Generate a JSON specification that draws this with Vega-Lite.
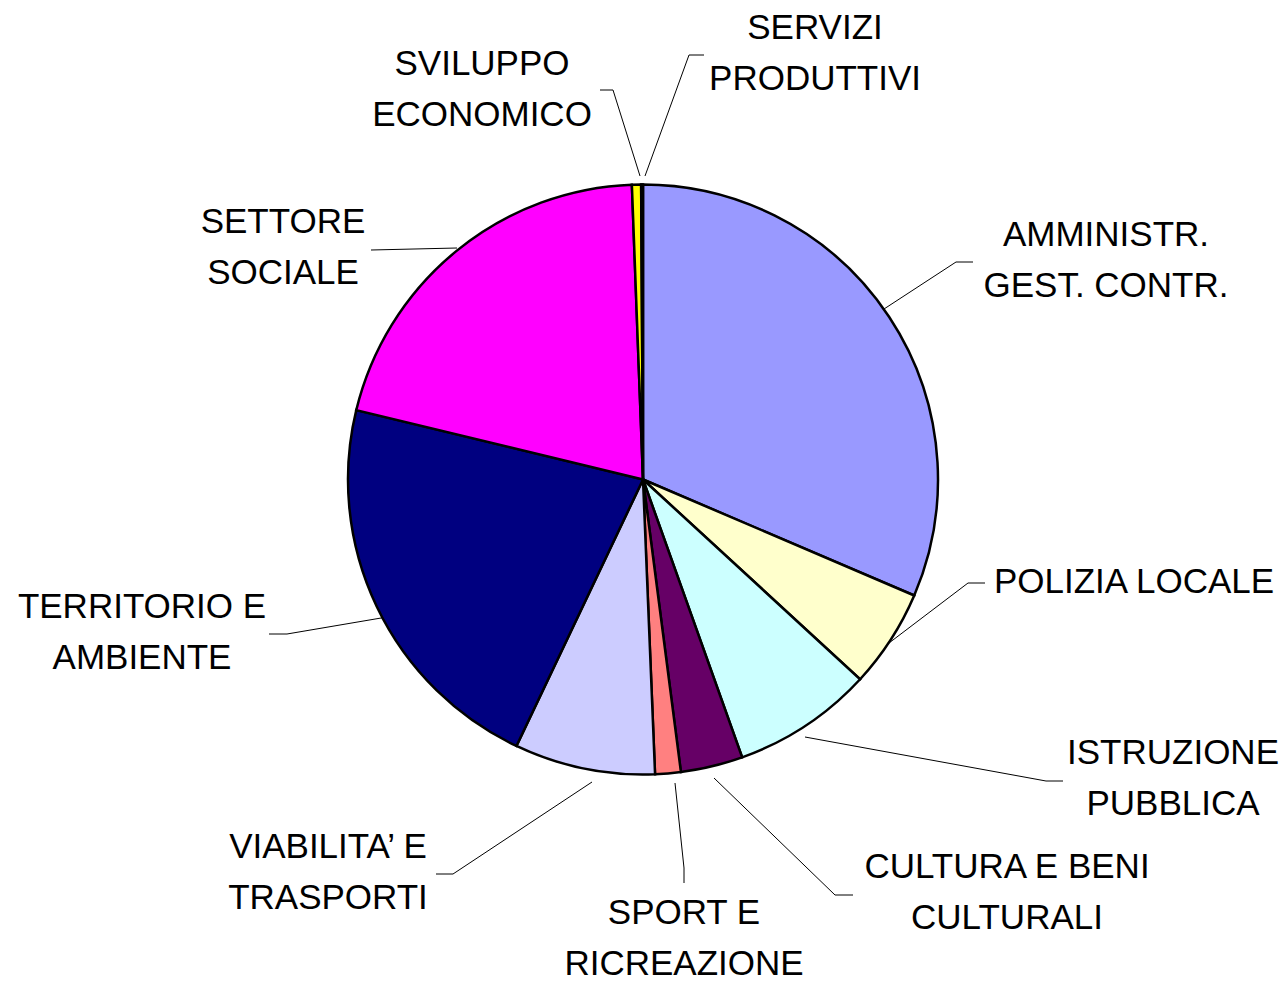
{
  "$schema": "https://vega.github.io/schema/vega-lite/v6.json",
  "width": 1283,
  "height": 983,
  "padding": 0,
  "autosize": {"type": "none"},
  "background": "white",
  "config": {"view": {"stroke": null}},
  "datasets": {
    "spesa": [
      {"order": 1, "category": "AMMINISTR. GEST. CONTR.", "value": 31.4},
      {"order": 2, "category": "POLIZIA LOCALE", "value": 5.4},
      {"order": 3, "category": "ISTRUZIONE PUBBLICA", "value": 7.7},
      {"order": 4, "category": "CULTURA E BENI CULTURALI", "value": 3.4},
      {"order": 5, "category": "SPORT E RICREAZIONE", "value": 1.4},
      {"order": 6, "category": "VIABILITA’ E TRASPORTI", "value": 7.7},
      {"order": 7, "category": "TERRITORIO E AMBIENTE", "value": 21.7},
      {"order": 8, "category": "SETTORE SOCIALE", "value": 20.6},
      {"order": 9, "category": "SVILUPPO ECONOMICO", "value": 0.5},
      {"order": 10, "category": "SERVIZI PRODUTTIVI", "value": 0.1}
    ],
    "labels": [
      {"category": "AMMINISTR. GEST. CONTR.", "text": "AMMINISTR.\nGEST. CONTR.", "x": 1106, "y": 235},
      {"category": "POLIZIA LOCALE", "text": "POLIZIA LOCALE", "x": 1134, "y": 582},
      {"category": "ISTRUZIONE PUBBLICA", "text": "ISTRUZIONE\nPUBBLICA", "x": 1173, "y": 753},
      {"category": "CULTURA E BENI CULTURALI", "text": "CULTURA E BENI\nCULTURALI", "x": 1007, "y": 867},
      {"category": "SPORT E RICREAZIONE", "text": "SPORT E\nRICREAZIONE", "x": 684, "y": 913},
      {"category": "VIABILITA’ E TRASPORTI", "text": "VIABILITA’ E\nTRASPORTI", "x": 328, "y": 847},
      {"category": "TERRITORIO E AMBIENTE", "text": "TERRITORIO E\nAMBIENTE", "x": 142, "y": 607},
      {"category": "SETTORE SOCIALE", "text": "SETTORE\nSOCIALE", "x": 283, "y": 222},
      {"category": "SVILUPPO ECONOMICO", "text": "SVILUPPO\nECONOMICO", "x": 482, "y": 64},
      {"category": "SERVIZI PRODUTTIVI", "text": "SERVIZI\nPRODUTTIVI", "x": 815, "y": 28}
    ],
    "leaders": [
      {"category": "AMMINISTR. GEST. CONTR.", "seq": 1, "x": 884, "y": 309},
      {"category": "AMMINISTR. GEST. CONTR.", "seq": 2, "x": 956, "y": 262},
      {"category": "AMMINISTR. GEST. CONTR.", "seq": 3, "x": 973, "y": 262},
      {"category": "POLIZIA LOCALE", "seq": 1, "x": 889, "y": 643},
      {"category": "POLIZIA LOCALE", "seq": 2, "x": 968, "y": 583},
      {"category": "POLIZIA LOCALE", "seq": 3, "x": 985, "y": 583},
      {"category": "ISTRUZIONE PUBBLICA", "seq": 1, "x": 805, "y": 737},
      {"category": "ISTRUZIONE PUBBLICA", "seq": 2, "x": 1046, "y": 781},
      {"category": "ISTRUZIONE PUBBLICA", "seq": 3, "x": 1063, "y": 781},
      {"category": "CULTURA E BENI CULTURALI", "seq": 1, "x": 714, "y": 778},
      {"category": "CULTURA E BENI CULTURALI", "seq": 2, "x": 835, "y": 895},
      {"category": "CULTURA E BENI CULTURALI", "seq": 3, "x": 853, "y": 895},
      {"category": "SPORT E RICREAZIONE", "seq": 1, "x": 675, "y": 783},
      {"category": "SPORT E RICREAZIONE", "seq": 2, "x": 684, "y": 868},
      {"category": "SPORT E RICREAZIONE", "seq": 3, "x": 684, "y": 883},
      {"category": "VIABILITA’ E TRASPORTI", "seq": 1, "x": 592, "y": 782},
      {"category": "VIABILITA’ E TRASPORTI", "seq": 2, "x": 453, "y": 874},
      {"category": "VIABILITA’ E TRASPORTI", "seq": 3, "x": 436, "y": 874},
      {"category": "TERRITORIO E AMBIENTE", "seq": 1, "x": 387, "y": 617},
      {"category": "TERRITORIO E AMBIENTE", "seq": 2, "x": 287, "y": 634},
      {"category": "TERRITORIO E AMBIENTE", "seq": 3, "x": 269, "y": 634},
      {"category": "SETTORE SOCIALE", "seq": 1, "x": 457, "y": 248},
      {"category": "SETTORE SOCIALE", "seq": 2, "x": 371, "y": 250},
      {"category": "SVILUPPO ECONOMICO", "seq": 1, "x": 640, "y": 176},
      {"category": "SVILUPPO ECONOMICO", "seq": 2, "x": 613, "y": 90},
      {"category": "SVILUPPO ECONOMICO", "seq": 3, "x": 600, "y": 90},
      {"category": "SERVIZI PRODUTTIVI", "seq": 1, "x": 645, "y": 176},
      {"category": "SERVIZI PRODUTTIVI", "seq": 2, "x": 689, "y": 55},
      {"category": "SERVIZI PRODUTTIVI", "seq": 3, "x": 704, "y": 55}
    ]
  },
  "layer": [
    {
      "data": {"name": "leaders"},
      "mark": {"type": "line", "stroke": "black", "strokeWidth": 1},
      "encoding": {
        "x": {"field": "x", "type": "quantitative", "scale": {"domain": [0, 1283], "nice": false, "zero": false}, "axis": null},
        "y": {"field": "y", "type": "quantitative", "scale": {"domain": [0, 983], "nice": false, "zero": false, "reverse": true}, "axis": null},
        "detail": {"field": "category"},
        "order": {"field": "seq"}
      }
    },
    {
      "data": {"name": "spesa"},
      "mark": {"type": "arc", "outerRadius": 295, "stroke": "black", "strokeWidth": 2.5},
      "encoding": {
        "theta": {"field": "value", "type": "quantitative", "stack": true},
        "order": {"field": "order"},
        "x": {"datum": 643, "type": "quantitative"},
        "y": {"datum": 479.5, "type": "quantitative"},
        "color": {
          "field": "category",
          "type": "nominal",
          "legend": null,
          "scale": {
            "domain": ["AMMINISTR. GEST. CONTR.", "POLIZIA LOCALE", "ISTRUZIONE PUBBLICA", "CULTURA E BENI CULTURALI", "SPORT E RICREAZIONE", "VIABILITA’ E TRASPORTI", "TERRITORIO E AMBIENTE", "SETTORE SOCIALE", "SVILUPPO ECONOMICO", "SERVIZI PRODUTTIVI"],
            "range": ["#9999FF", "#FFFFCC", "#CCFFFF", "#660066", "#FF8080", "#CCCCFF", "#000080", "#FF00FF", "#FFFF00", "#00FFFF"]
          }
        }
      }
    },
    {
      "data": {"name": "labels"},
      "mark": {"type": "text", "font": "Liberation Sans", "fontSize": 35, "lineBreak": "\n", "lineHeight": 51, "align": "center", "baseline": "middle", "color": "black"},
      "encoding": {
        "x": {"field": "x", "type": "quantitative"},
        "y": {"field": "y", "type": "quantitative"},
        "text": {"field": "text", "type": "nominal"}
      }
    }
  ]
}
